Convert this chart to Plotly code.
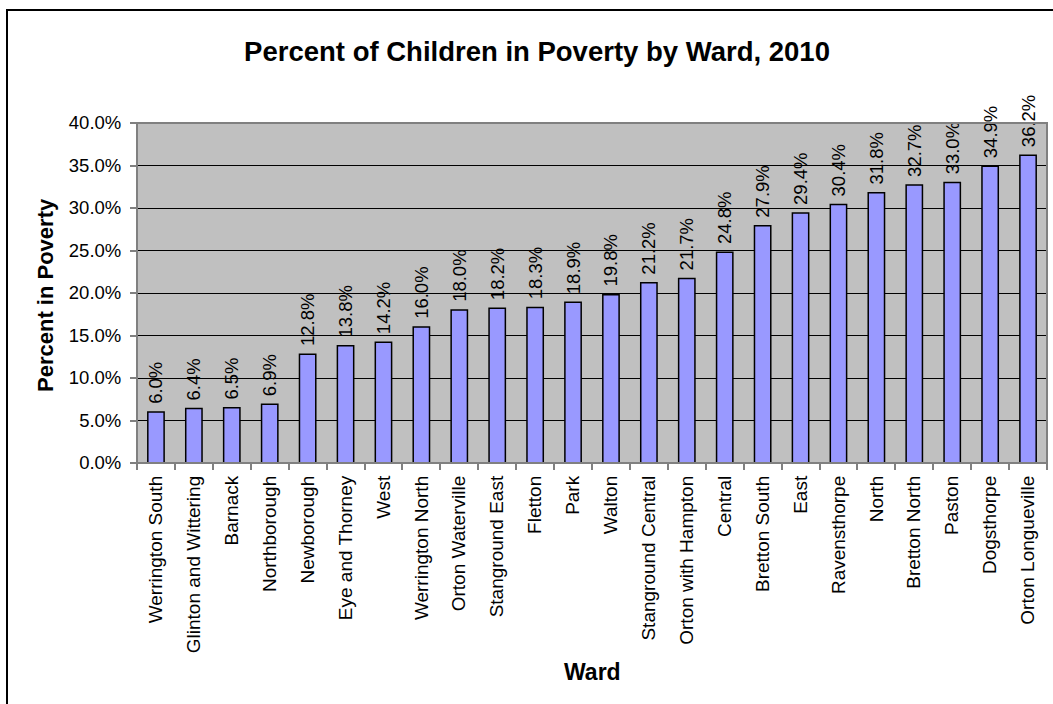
import plotly.graph_objects as go

wards = ["Werrington South", "Glinton and Wittering", "Barnack", "Northborough",
         "Newborough", "Eye and Thorney", "West", "Werrington North",
         "Orton Waterville", "Stanground East", "Fletton", "Park", "Walton",
         "Stanground Central", "Orton with Hampton", "Central", "Bretton South",
         "East", "Ravensthorpe", "North", "Bretton North", "Paston",
         "Dogsthorpe", "Orton Longueville"]
percent = [0.060, 0.064, 0.065, 0.069, 0.128, 0.138, 0.142, 0.160, 0.180, 0.182,
           0.183, 0.189, 0.198, 0.212, 0.217, 0.248, 0.279, 0.294, 0.304, 0.318,
           0.327, 0.330, 0.349, 0.362]

FONT = "Arial, Liberation Sans, sans-serif"
W, H = 1053, 704
L, R, T, B = 137, 6, 123, 241
pw, ph = W - L - R, H - T - B

def px_x(x):
    return (x - L) / pw

def px_y(y):
    return (H - B - y) / ph

fig = go.Figure(go.Bar(
    x=wards, y=percent,
    marker=dict(color="#9999FF", line=dict(color="black", width=1.5)),
    texttemplate="\u00a0%{y:.1%}", textposition="outside", textangle=-90,
    textfont=dict(family=FONT, size=18.5, color="black"),
    cliponaxis=False, constraintext="none",
))

fig.update_layout(
    width=W, height=H,
    margin=dict(l=L, r=R, t=T, b=B),
    paper_bgcolor="white", plot_bgcolor="#C0C0C0",
    showlegend=False, bargap=0.57,
    font=dict(family=FONT, color="black"),
    title=dict(text="<b>Percent of Children in Poverty by Ward, 2010</b>",
               x=0.51, xanchor="center", y=1 - 51 / H, yanchor="middle",
               font=dict(family=FONT, size=27.5, color="black")),
    xaxis=dict(type="category", tickangle=-90, tickson="boundaries",
               ticks="outside", ticklen=6, tickcolor="#808080", tickwidth=1.5,
               ticklabelstandoff=8,
               tickfont=dict(family=FONT, size=19, color="black"),
               showline=False, showgrid=False),
    yaxis=dict(range=[0, 0.4], dtick=0.05, tickformat=".1%",
               ticks="outside", ticklen=6, tickcolor="#808080", tickwidth=1.5,
               ticklabelstandoff=5,
               tickfont=dict(family=FONT, size=18.5, color="black"),
               showgrid=True, gridcolor="black", gridwidth=1,
               zeroline=False, showline=False),
    shapes=[
        dict(type="rect", xref="paper", yref="paper", x0=0, x1=1, y0=0, y1=1,
             line=dict(color="#808080", width=2), layer="above"),
        dict(type="rect", xref="paper", yref="paper",
             x0=px_x(7), x1=px_x(1080), y0=px_y(10), y1=px_y(730),
             line=dict(color="black", width=2)),
    ],
    annotations=[
        dict(text="<b>Percent in Poverty</b>", xref="paper", yref="paper",
             x=px_x(45), y=px_y(295), textangle=-90, showarrow=False,
             xanchor="center", yanchor="middle",
             font=dict(family=FONT, size=22, color="black")),
        dict(text="<b>Ward</b>", xref="paper", yref="paper",
             x=px_x(592), y=px_y(672), showarrow=False,
             xanchor="center", yanchor="middle",
             font=dict(family=FONT, size=23, color="black")),
    ],
)

fig.write_html("out.html")
